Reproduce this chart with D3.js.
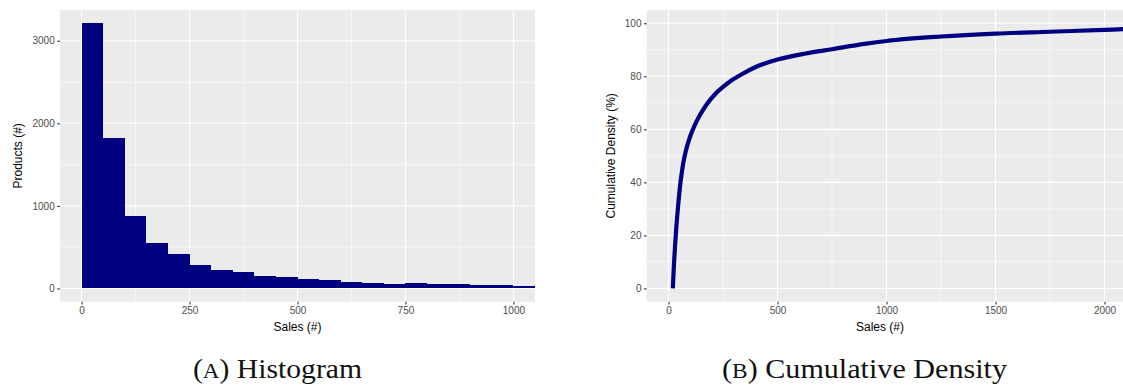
<!doctype html>
<html>
<head>
<meta charset="UTF-8">
<title>Sales distribution</title>
<script src="https://d3js.org/d3.v7.min.js"></script>
<style>
  body { margin: 0; background: #fff; }
  svg { display: block; }
</style>
</head>
<body>
<script>
// histogram: bin starts (width 50) and counts
var binStarts = [0, 50, 100, 150, 200, 250, 300, 350, 400, 450, 500, 550, 600, 650, 700, 750, 800, 850, 900, 950, 1000];
var binCounts = [3212, 1825, 876, 549, 416, 282, 222, 198, 149, 137, 113, 101, 76, 64, 52, 64, 52, 52, 40, 40, 28];
var binWidth = 50;
var histXTicks = [0, 250, 500, 750, 1000];
var histYTicks = [0, 1000, 2000, 3000];

// cumulative density readings
var cdfSales = [20, 22, 25, 30, 35, 45, 55, 67, 80, 98, 120, 145, 170, 190, 220, 250, 290, 330, 400, 500, 630, 750, 900, 1000, 1250, 1500, 1750, 2000, 2100];
var cdfPct = [0, 4, 9, 16, 22, 32, 40, 47, 52, 57, 61.5, 65.5, 68.8, 71, 73.8, 76, 78.5, 80.5, 83.5, 86.3, 88.6, 90.2, 92.2, 93.3, 95, 96.1, 96.8, 97.5, 97.8];
var cdfXTicks = [0, 500, 1000, 1500, 2000];
var cdfYTicks = [0, 20, 40, 60, 80, 100];

var W = 1123, H = 385;
var barColor = "#000080";

var svg = d3.select("body").append("svg")
    .attr("width", W)
    .attr("height", H);

var defs = svg.append("defs");

function mids(t) {
    var out = [];
    for (var i = 0; i < t.length - 1; i++) out.push((t[i] + t[i + 1]) / 2);
    return out;
}

function panel(opt) {
    var g = svg.append("g");
    var x = opt.x, y = opt.y;
    var x0 = x.range()[0], x1 = x.range()[1];
    var y0 = y.range()[1], y1 = y.range()[0];

    defs.append("clipPath").attr("id", opt.id)
        .append("rect").attr("x", x0).attr("y", y0).attr("width", x1 - x0).attr("height", y1 - y0);

    g.append("rect")
        .attr("x", x0).attr("y", y0)
        .attr("width", x1 - x0).attr("height", y1 - y0)
        .attr("fill", "#EBEBEB");

    var grid = g.append("g");
    grid.selectAll(".ymin").data(mids(opt.yTicks)).enter().append("line")
        .attr("x1", x0).attr("x2", x1)
        .attr("y1", function(d){ return y(d); }).attr("y2", function(d){ return y(d); })
        .attr("stroke", "#fff").attr("stroke-width", 0.55);
    grid.selectAll(".xmin").data(mids(opt.xTicks)).enter().append("line")
        .attr("y1", y0).attr("y2", y1)
        .attr("x1", function(d){ return x(d); }).attr("x2", function(d){ return x(d); })
        .attr("stroke", "#fff").attr("stroke-width", 0.55);
    grid.selectAll(".ymaj").data(opt.yTicks).enter().append("line")
        .attr("x1", x0).attr("x2", x1)
        .attr("y1", function(d){ return y(d); }).attr("y2", function(d){ return y(d); })
        .attr("stroke", "#fff").attr("stroke-width", 1.1);
    grid.selectAll(".xmaj").data(opt.xTicks).enter().append("line")
        .attr("y1", y0).attr("y2", y1)
        .attr("x1", function(d){ return x(d); }).attr("x2", function(d){ return x(d); })
        .attr("stroke", "#fff").attr("stroke-width", 1.1);

    var marks = g.append("g").attr("clip-path", "url(#" + opt.id + ")");

    var xAxis = g.append("g")
        .attr("transform", "translate(0," + y1 + ")")
        .call(d3.axisBottom(x).tickValues(opt.xTicks).tickSize(2.75).tickPadding(2.5).tickFormat(d3.format("d")));
    var yAxis = g.append("g")
        .attr("transform", "translate(" + x0 + ",0)")
        .call(d3.axisLeft(y).tickValues(opt.yTicks).tickSize(2.75).tickPadding(2.5).tickFormat(d3.format("d")));
    [xAxis, yAxis].forEach(function(a){
        a.select(".domain").remove();
        a.selectAll(".tick line").attr("stroke", "#333333").attr("stroke-width", 1.1);
        a.selectAll("text").attr("fill", "#4D4D4D")
            .style("font-family", "'Liberation Sans', Arial, sans-serif")
            .style("font-size", "10px");
    });

    g.append("text")
        .attr("x", opt.xLabelX).attr("y", 330.5)
        .attr("text-anchor", "middle")
        .style("font-family", "'Liberation Sans', Arial, sans-serif")
        .style("font-size", "12px")
        .attr("fill", "#000")
        .text(opt.xLabel);
    g.append("text")
        .attr("transform", "translate(" + opt.yLabelX + "," + ((y0 + y1) / 2) + ") rotate(-90)")
        .attr("text-anchor", "middle")
        .style("font-family", "'Liberation Sans', Arial, sans-serif")
        .style("font-size", "12px")
        .attr("fill", "#000")
        .text(opt.yLabel);

    g.append("text")
        .attr("x", opt.capX).attr("y", 378)
        .attr("textLength", opt.capW)
        .attr("lengthAdjust", "spacingAndGlyphs")
        .style("font-family", "'Liberation Serif', serif")
        .style("font-size", "27px")
        .attr("fill", "#111")
        .call(function(t){
            t.append("tspan").text("(");
            t.append("tspan").style("font-size", "21px").text(opt.capLetter);
            t.append("tspan").text(") " + opt.caption);
        });

    return marks;
}

// left: histogram
var xA = d3.scaleLinear().domain([-50, 1050]).range([60, 535]);
var yA = d3.scaleLinear().domain([-160.6, 3372.6]).range([301.7, 10]);
var marksA = panel({
    id: "clipA", x: xA, y: yA, xTicks: histXTicks, yTicks: histYTicks,
    xLabel: "Sales (#)", yLabel: "Products (#)", xLabelX: 297.5, yLabelX: 22,
    capX: 193, capW: 169, capLetter: "A", caption: "Histogram"
});
marksA.selectAll("rect").data(binStarts).enter().append("rect")
    .attr("x", function(d){ return xA(d); })
    .attr("width", function(d){ return xA(d + binWidth) - xA(d); })
    .attr("y", function(d, i){ return yA(binCounts[i]); })
    .attr("height", function(d, i){ return yA(0) - yA(binCounts[i]); })
    .attr("fill", barColor)
    .attr("shape-rendering", "crispEdges");

// right: cumulative density
var xB = d3.scaleLinear().domain([-100, 2100]).range([646.7, 1126.3]);
var yB = d3.scaleLinear().domain([-5, 105]).range([301.7, 10]);
var marksB = panel({
    id: "clipB", x: xB, y: yB, xTicks: cdfXTicks, yTicks: cdfYTicks,
    xLabel: "Sales (#)", yLabel: "Cumulative Density (%)", xLabelX: 880, yLabelX: 615,
    capX: 722, capW: 285, capLetter: "B", caption: "Cumulative Density"
});
var line = d3.line()
    .x(function(d){ return xB(d); })
    .y(function(d, i){ return yB(cdfPct[i]); })
    .curve(d3.curveMonotoneX);
marksB.append("path")
    .datum(cdfSales)
    .attr("d", line)
    .attr("fill", "none")
    .attr("stroke", barColor)
    .attr("stroke-width", 4.2);
</script>
</body>
</html>
